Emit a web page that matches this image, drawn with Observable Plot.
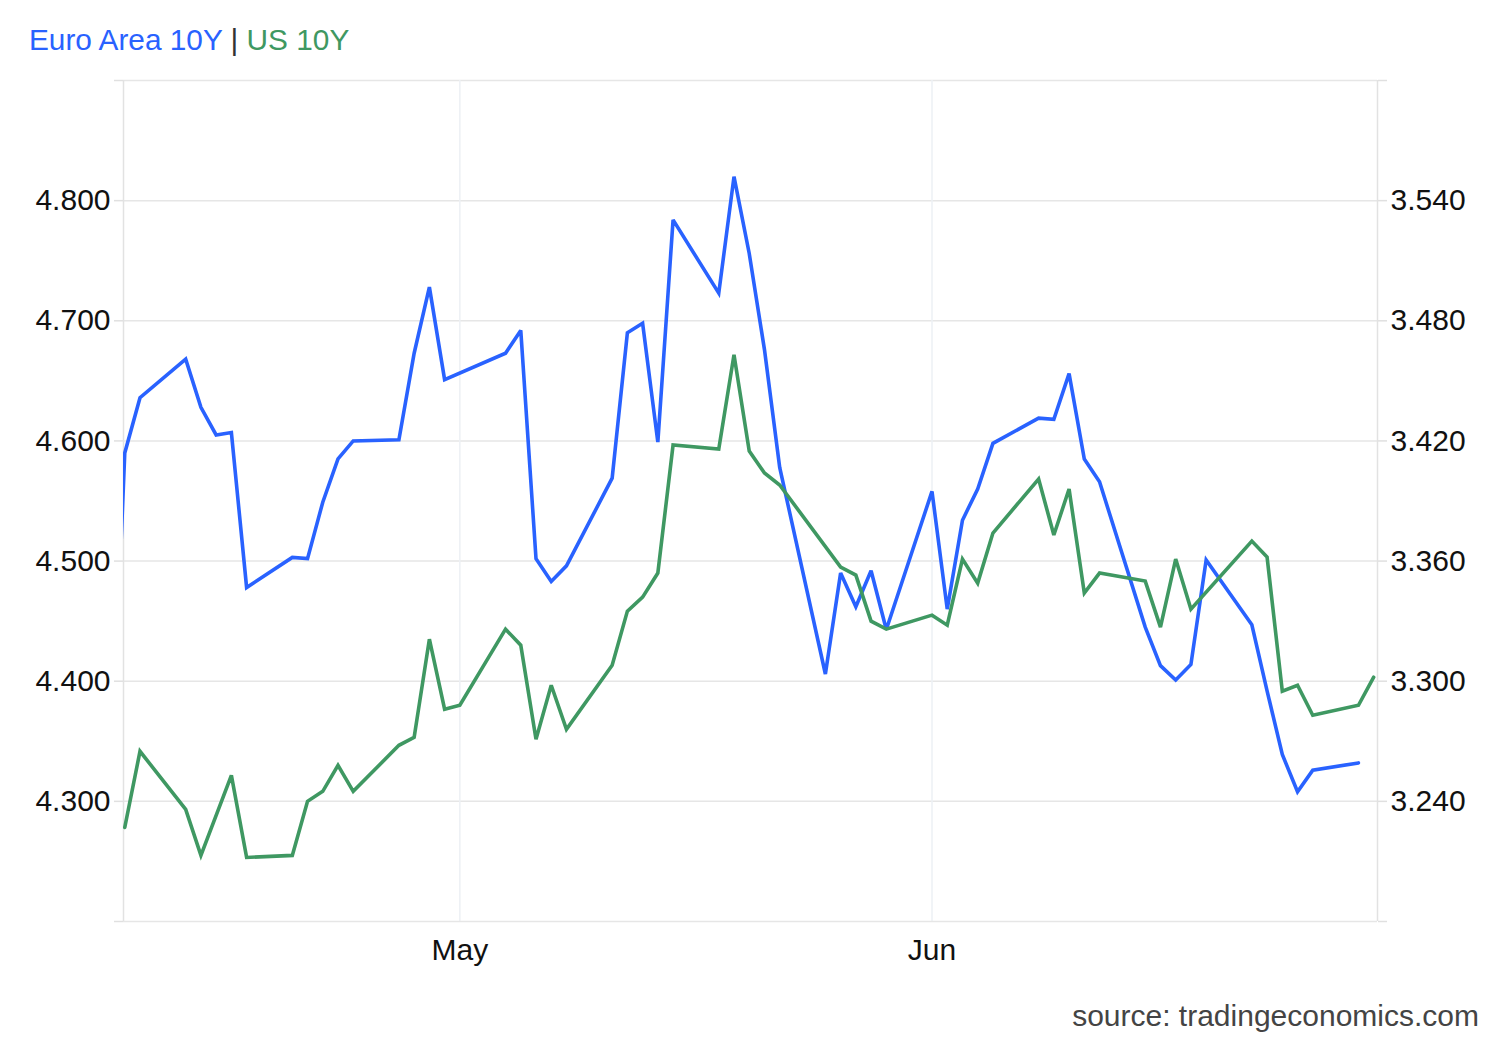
<!DOCTYPE html>
<html>
<head>
<meta charset="utf-8">
<script src="https://cdn.jsdelivr.net/npm/d3@7"></script>
<script src="https://cdn.jsdelivr.net/npm/@observablehq/plot@0.6"></script>
<style>
  body { margin: 0; background: #fff; font-family: "Liberation Sans", Arial, sans-serif; }
  #wrap { position: relative; width: 1500px; height: 1040px; overflow: hidden; }
  #chart { position: absolute; left: 0; top: 0; }
  #title { position: absolute; left: 29px; top: 25px; font-size: 29.8px; line-height: 1; white-space: nowrap; }
  #source { position: absolute; right: 21px; top: 1001px; font-size: 30px; line-height: 1; color: #444; white-space: nowrap; }
</style>
</head>
<body>
<div id="wrap">
  <div id="chart"></div>
  <div id="title"></div>
  <div id="source"></div>
</div>
<script>
// ---- data ----
const seriesNames = ["Euro Area 10Y", "US 10Y"];
const seriesColors = ["#2962ff", "#3f9862"];
const sourceText = "source: tradingeconomics.com";

const euroDates = [
  "2015-04-08","2015-04-09","2015-04-10","2015-04-13","2015-04-14","2015-04-15","2015-04-16","2015-04-17",
  "2015-04-20","2015-04-21","2015-04-22","2015-04-23","2015-04-24","2015-04-27","2015-04-28","2015-04-29","2015-04-30",
  "2015-05-04","2015-05-05","2015-05-06","2015-05-07","2015-05-08","2015-05-11","2015-05-12","2015-05-13","2015-05-14","2015-05-15",
  "2015-05-18","2015-05-19","2015-05-20","2015-05-21","2015-05-22","2015-05-25","2015-05-26","2015-05-27","2015-05-28","2015-05-29",
  "2015-06-01","2015-06-02","2015-06-03","2015-06-04","2015-06-05","2015-06-08","2015-06-09","2015-06-10","2015-06-11","2015-06-12",
  "2015-06-15","2015-06-16","2015-06-17","2015-06-18","2015-06-19","2015-06-22","2015-06-23","2015-06-24","2015-06-25","2015-06-26","2015-06-29"
];
const euroValues = [
  4.280, 4.590, 4.636, 4.668, 4.628, 4.605, 4.607, 4.478,
  4.503, 4.502, 4.549, 4.585, 4.600, 4.601, 4.673, 4.728, 4.651,
  4.673, 4.692, 4.502, 4.483, 4.496, 4.569, 4.690, 4.698, 4.599, 4.784,
  4.723, 4.820, 4.756, 4.676, 4.578, 4.406, 4.490, 4.462, 4.492, 4.443,
  4.558, 4.460, 4.534, 4.560, 4.598, 4.619, 4.618, 4.656, 4.585, 4.566,
  4.445, 4.413, 4.401, 4.414, 4.501, 4.447, 4.392, 4.339, 4.308, 4.326, 4.332
];

const usDates = [
  "2015-04-09","2015-04-10","2015-04-13","2015-04-14","2015-04-16","2015-04-17",
  "2015-04-20","2015-04-21","2015-04-22","2015-04-23","2015-04-24","2015-04-27","2015-04-28","2015-04-29","2015-04-30",
  "2015-05-01","2015-05-04","2015-05-05","2015-05-06","2015-05-07","2015-05-08","2015-05-11","2015-05-12","2015-05-13","2015-05-14","2015-05-15",
  "2015-05-18","2015-05-19","2015-05-20","2015-05-21","2015-05-22","2015-05-26","2015-05-27","2015-05-28","2015-05-29",
  "2015-06-01","2015-06-02","2015-06-03","2015-06-04","2015-06-05","2015-06-08","2015-06-09","2015-06-10","2015-06-11","2015-06-12",
  "2015-06-15","2015-06-16","2015-06-17","2015-06-18","2015-06-22","2015-06-23","2015-06-24","2015-06-25","2015-06-26","2015-06-29","2015-06-30"
];
const usValues = [
  3.227, 3.265, 3.236, 3.213, 3.253, 3.212,
  3.213, 3.240, 3.245, 3.258, 3.245, 3.268, 3.272, 3.321, 3.286,
  3.288, 3.326, 3.318, 3.271, 3.298, 3.276, 3.308, 3.335, 3.342, 3.354, 3.418,
  3.416, 3.463, 3.415, 3.404, 3.398, 3.357, 3.353, 3.330, 3.326,
  3.333, 3.328, 3.361, 3.349, 3.374, 3.401, 3.373, 3.396, 3.344, 3.354,
  3.350, 3.327, 3.361, 3.336, 3.370, 3.362, 3.295, 3.298, 3.283, 3.288, 3.302
];

const leftDomain = [4.2, 4.9];
const rightDomain = [3.18, 3.60];
const leftTicks = [4.2, 4.3, 4.4, 4.5, 4.6, 4.7, 4.8, 4.9];
const leftTickLabels = ["", "4.300", "4.400", "4.500", "4.600", "4.700", "4.800", ""];
const rightTicks = [3.18, 3.24, 3.30, 3.36, 3.42, 3.48, 3.54, 3.60];
const rightTickLabels = ["", "3.240", "3.300", "3.360", "3.420", "3.480", "3.540", ""];
const xTicks = ["2015-05-01", "2015-06-01"];
const xTickLabels = ["May", "Jun"];
const xDomain = ["2015-04-08T22:00Z", "2015-06-30T06:00Z"];

// ---- build ----
const toLeft = r => leftDomain[0] + (r - rightDomain[0]) * (leftDomain[1] - leftDomain[0]) / (rightDomain[1] - rightDomain[0]);
const euro = euroDates.map((d, i) => ({date: new Date(d), value: euroValues[i]}));
const us = usDates.map((d, i) => ({date: new Date(d), value: toLeft(usValues[i])}));
const xTickDates = xTicks.map(d => new Date(d));
const xDom = xDomain.map(d => new Date(d));
const rightTicksL = rightTicks.map(toLeft);

const leftLabel = v => { const i = leftTicks.findIndex(t => Math.abs(t - v) < 1e-6); return i >= 0 ? leftTickLabels[i] : ""; };
const rightLabel = v => { const i = rightTicksL.findIndex(t => Math.abs(t - v) < 1e-6); return i >= 0 ? rightTickLabels[i] : ""; };
const xLabel = d => { const i = xTickDates.findIndex(t => +t === +d); return i >= 0 ? xTickLabels[i] : ""; };

const chart = Plot.plot({
  width: 1500,
  height: 1040,
  marginTop: 80,
  marginBottom: 119,
  marginLeft: 123,
  marginRight: 123,
  style: {fontFamily: "'Liberation Sans', Arial, sans-serif", fontSize: "30px", background: "transparent", color: "#111"},
  x: {type: "utc", domain: xDom, label: null},
  y: {domain: leftDomain, label: null},
  marks: [
    Plot.ruleY(leftTicks.slice(1), {stroke: "#e6e6e6", strokeWidth: 1.5}),
    Plot.ruleX(xTickDates, {stroke: "#edf0f4", strokeWidth: 1.5}),
    Plot.ruleY([leftDomain[0]], {stroke: "#e6e6e6", strokeWidth: 1.5}),
    Plot.ruleX(xDom, {stroke: "#e2e2e2", strokeWidth: 1.5}),
    Plot.axisY(leftTicks, {anchor: "left", tickSize: 9, tickPadding: 4, stroke: "#e0e0e0", strokeWidth: 1.5, fill: "#111", tickFormat: leftLabel, fontSize: 30, label: null}),
    Plot.axisY(rightTicksL, {anchor: "right", tickSize: 9, tickPadding: 4, stroke: "#e0e0e0", strokeWidth: 1.5, fill: "#111", tickFormat: rightLabel, fontSize: 30, label: null}),
    Plot.axisX(xTickDates, {anchor: "bottom", tickSize: 0, tickPadding: 17, fill: "#111", tickFormat: xLabel, fontSize: 30, label: null}),
    Plot.lineY(euro, {x: "date", y: "value", stroke: seriesColors[0], strokeWidth: 3.6, strokeLinejoin: "miter", strokeMiterlimit: 3, clip: true}),
    Plot.lineY(us, {x: "date", y: "value", stroke: seriesColors[1], strokeWidth: 3.6, strokeLinejoin: "miter", strokeMiterlimit: 3, clip: true})
  ]
});
document.getElementById("chart").appendChild(chart);

const title = document.getElementById("title");
title.innerHTML = `<span style="color:${seriesColors[0]}">${seriesNames[0]}</span> <span style="color:#333">|</span> <span style="color:${seriesColors[1]}">${seriesNames[1]}</span>`;
document.getElementById("source").textContent = sourceText;
</script>
</body>
</html>
